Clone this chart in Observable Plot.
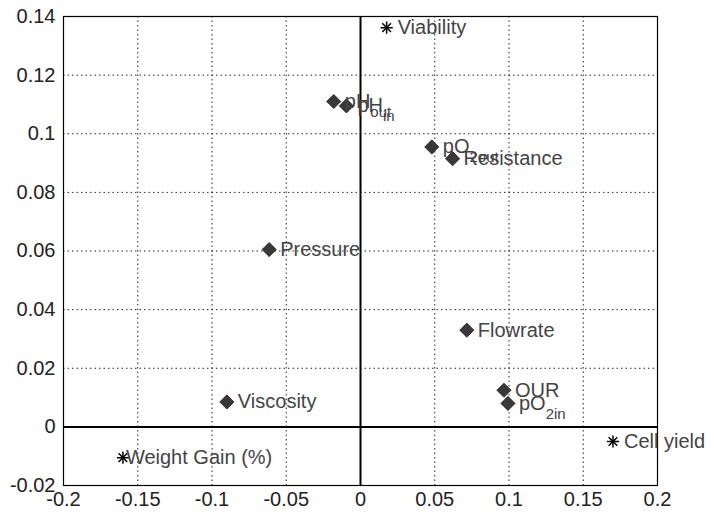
<!DOCTYPE html>
<html>
<head>
<meta charset="utf-8">
<script src="https://cdn.jsdelivr.net/npm/d3@7"></script>
<script src="https://cdn.jsdelivr.net/npm/@observablehq/plot@0.6"></script>
<style>
  html, body { margin: 0; padding: 0; background: #fff; }
  #chart svg { display: block; }
</style>
</head>
<body>
<div id="chart"></div>
<script>
// Variable names and scores
const names   = ["Viability", "pH_out", "pH_in", "pO_2out", "Resistance", "Pressure", "Flowrate", "OUR", "pO_2in", "Viscosity", "Cell yield", "Weight Gain (%)"];
const xValues = [0.0176, -0.0180, -0.0095, 0.0480, 0.0620, -0.0615, 0.0716, 0.0966, 0.0993, -0.0900, 0.1700, -0.1600];
const yValues = [0.1362, 0.1110, 0.1095, 0.0955, 0.0915, 0.0605, 0.0330, 0.0125, 0.0080, 0.0085, -0.0050, -0.0105];
const kinds   = ["output", "input", "input", "input", "input", "input", "input", "input", "input", "input", "output", "output"];

const xTicks = [-0.2, -0.15, -0.1, -0.05, 0, 0.05, 0.1, 0.15, 0.2];
const xTickLabels = ["-0.2", "-0.15", "-0.1", "-0.05", "0", "0.05", "0.1", "0.15", "0.2"];
const yTicks = [-0.02, 0, 0.02, 0.04, 0.06, 0.08, 0.1, 0.12, 0.14];
const yTickLabels = ["-0.02", "0", "0.02", "0.04", "0.06", "0.08", "0.1", "0.12", "0.14"];

const data = names.map((name, i) => ({name, x: xValues[i], y: yValues[i], kind: kinds[i]}));
const inputs = data.filter(d => d.kind === "input");
const outputs = data.filter(d => d.kind === "output");
const innerTicksX = xTicks.slice(1, -1);
const innerTicksY = yTicks.slice(1, -1);

const font = "'Liberation Sans', Arial, sans-serif";
const labelMain = data.filter(d => d.name !== "Weight Gain (%)");
const labelWG = data.filter(d => d.name === "Weight Gain (%)");

const chart = Plot.plot({
  width: 714,
  height: 517,
  marginLeft: 63,
  marginRight: 57,
  marginTop: 16,
  marginBottom: 32,
  style: {fontFamily: font, fontSize: "20px", color: "#222", background: "#fff"},
  x: {domain: [-0.2, 0.2], label: null},
  y: {domain: [-0.02, 0.14], label: null},
  marks: [
    Plot.gridX(innerTicksX, {stroke: "#000", strokeOpacity: 0.85, strokeDasharray: "1.5,3"}),
    Plot.gridY(innerTicksY, {stroke: "#000", strokeOpacity: 0.85, strokeDasharray: "1.5,3"}),
    Plot.axisX({ticks: xTicks, tickFormat: (d, i) => xTickLabels[i], tickSize: 0, tickPadding: 6, fontSize: 20, fill: "#222", label: null}),
    Plot.axisY({ticks: yTicks, tickFormat: (d, i) => yTickLabels[i], tickSize: 0, tickPadding: 8, fontSize: 20, fill: "#222", label: null}),
    Plot.ruleX([0], {stroke: "#000", strokeWidth: 2}),
    Plot.ruleY([0], {stroke: "#000", strokeWidth: 2}),
    Plot.frame({stroke: "#000", strokeWidth: 1.2}),
    Plot.dot(inputs, {x: "x", y: "y", symbol: "diamond2", r: 6.4, fill: "#383838", stroke: "#222", strokeWidth: 0.8}),
    Plot.dot(outputs, {x: "x", y: "y", symbol: "plus", r: 4, stroke: "#000", strokeWidth: 1.5}),
    Plot.dot(outputs, {x: "x", y: "y", symbol: "times", r: 4, stroke: "#000", strokeWidth: 1.5}),
    Plot.text(labelMain, {x: "x", y: "y", text: "name", textAnchor: "start", dx: 11, fill: "#444", fontSize: 20}),
    Plot.text(labelWG, {x: "x", y: "y", text: "name", textAnchor: "start", dx: 3, fill: "#444", fontSize: 20})
  ]
});

// Render "_" as a subscript
d3.select(chart).selectAll("text").each(function () {
  const t = this.textContent;
  if (!t.includes("_") || this.childElementCount > 0) return;
  const [base, sub] = t.split("_");
  const sel = d3.select(this);
  sel.text(null);
  sel.append("tspan").text(base);
  sel.append("tspan").attr("font-size", 15).attr("dy", 9).text(sub);
});

document.getElementById("chart").append(chart);
</script>
</body>
</html>
